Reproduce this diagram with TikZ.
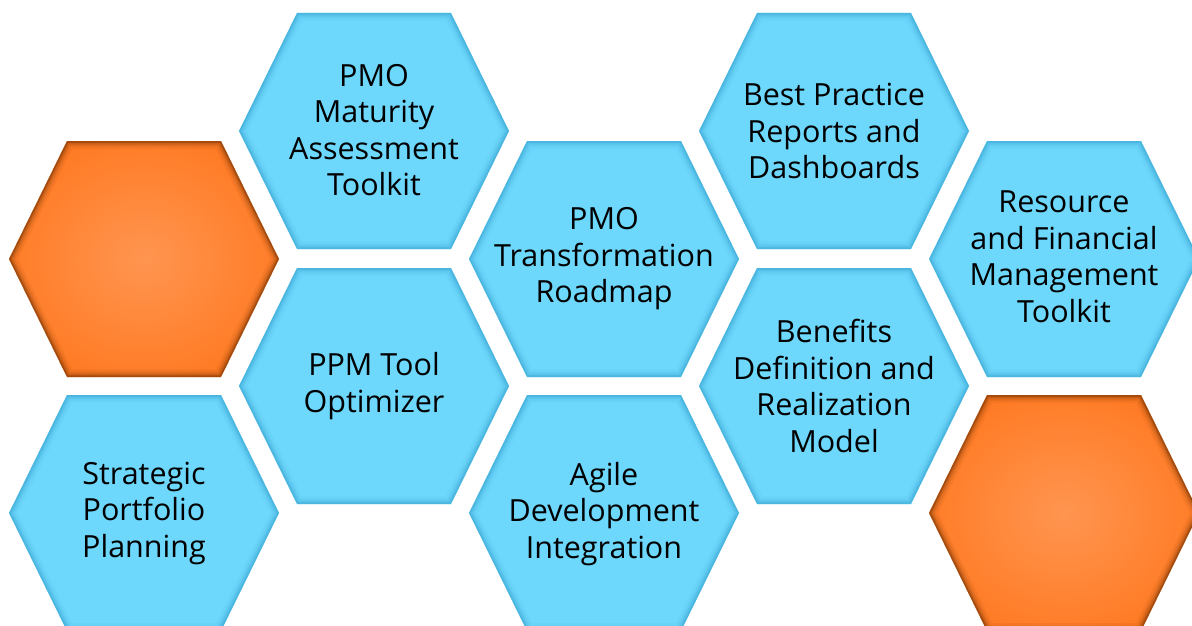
\documentclass[tikz,border=0pt]{standalone}
\usepackage{fontspec}
\setmainfont{Open Sans}
\definecolor{hexblue}{HTML}{6DD7FC}
\definecolor{hexblueedge}{HTML}{2A95C4}
\definecolor{hexorange}{HTML}{FF6C0C}
\definecolor{hexorangec}{HTML}{FF9550}
\definecolor{hexorangeedge}{HTML}{6E2E00}
\pgfdeclareradialshading{orangeglow}{\pgfpoint{0bp}{0bp}}{color(0bp)=(hexorangec); color(42bp)=(hexorange); color(50bp)=(hexorange)}
\tikzset{
  x=1pt, y=-1pt,
  hexp/.style={insert path={(-135,0) -- (-77,-118) -- (77,-118) -- (135,0) -- (77,118) -- (-77,118) -- cycle}},
  bluehex/.pic={
    \fill[hexblue] [hexp];
    \begin{scope}
      \clip [hexp];
      \draw[hexblueedge, line width=16pt, opacity=0.06] [hexp];
      \draw[hexblueedge, line width=11pt, opacity=0.10] [hexp];
      \draw[hexblueedge, line width=7pt, opacity=0.16] [hexp];
      \draw[hexblueedge, line width=3.5pt, opacity=0.28] [hexp];
    \end{scope}
  },
  orangehex/.pic={
    \shade[shading=orangeglow] [hexp];
    \begin{scope}
      \clip [hexp];
      \draw[hexorangeedge, line width=16pt, opacity=0.07] [hexp];
      \draw[hexorangeedge, line width=11pt, opacity=0.12] [hexp];
      \draw[hexorangeedge, line width=7pt, opacity=0.20] [hexp];
      \draw[hexorangeedge, line width=3.5pt, opacity=0.40] [hexp];
    \end{scope}
  },
  hextext/.style={align=center, text=black, inner sep=0pt,
    font=\fontsize{30.5}{36.5}\selectfont}
}
\begin{document}
\begin{tikzpicture}
\useasboundingbox (0,0) rectangle (1192,626);
\clip (0,0) rectangle (1192,626);
% hexagons
\pic at (144,259) {orangehex};
\pic at (374,131) {bluehex};
\pic at (374,386) {bluehex};
\pic at (144,513) {bluehex};
\pic at (604,259) {bluehex};
\pic at (604,513) {bluehex};
\pic at (834,131) {bluehex};
\pic at (834,386) {bluehex};
\pic at (1064,259) {bluehex};
\pic at (1064,513) {orangehex};
% labels
\node[hextext] (maturity) at (374,130) {PMO\\Maturity\\Assessment\\Toolkit};
\node[hextext] (ppm) at (374,386) {PPM Tool\\Optimizer};
\node[hextext] (strategic) at (144,513) {Strategic\\Portfolio\\Planning};
\node[hextext] (transformation) at (604,259) {PMO\\Transformation\\Roadmap};
\node[hextext] (agile) at (604,514) {Agile\\Development\\Integration};
\node[hextext] (bestpractice) at (834,131) {Best Practice\\Reports and\\Dashboards};
\node[hextext] (benefits) at (834,386) {Benefits\\Definition and\\Realization\\Model};
\node[hextext] (resource) at (1064,257) {Resource\\and Financial\\Management\\Toolkit};
\end{tikzpicture}
\end{document}
